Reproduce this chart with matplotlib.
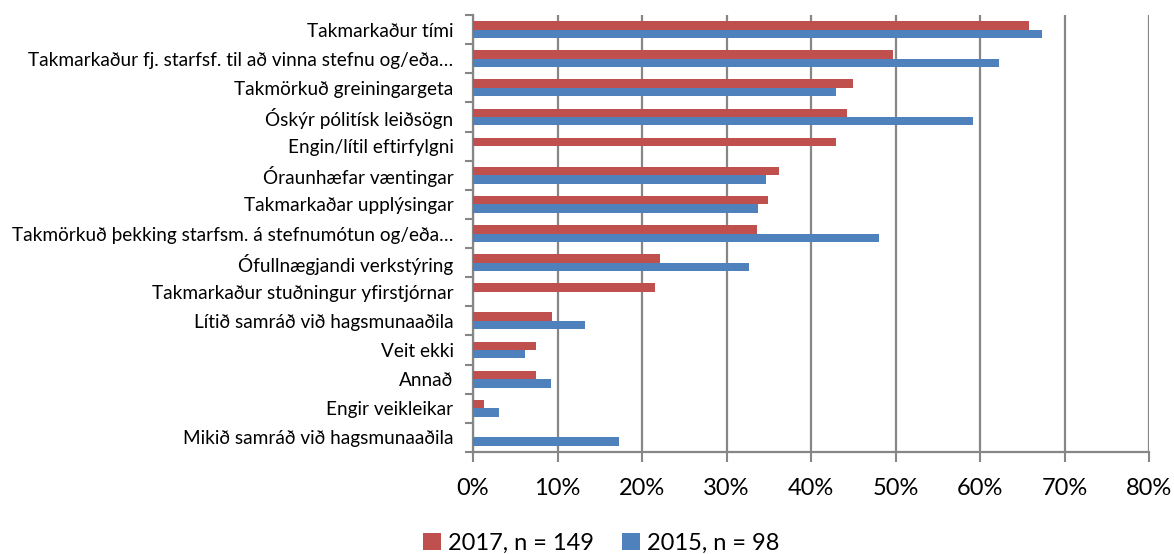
import matplotlib
matplotlib.use("Agg")
import matplotlib.pyplot as plt
import numpy as np
from matplotlib.patches import Patch

plt.rcParams['font.family'] = ['Lato', 'DejaVu Sans']

categories = [
    "Takmarkaður tími",
    "Takmarkaður fj. starfsf. til að vinna stefnu og/eða…",
    "Takmörkuð greiningargeta",
    "Óskýr pólitísk leiðsögn",
    "Engin/lítil eftirfylgni",
    "Óraunhæfar væntingar",
    "Takmarkaðar upplýsingar",
    "Takmörkuð þekking starfsm. á stefnumótun og/eða…",
    "Ófullnægjandi verkstýring",
    "Takmarkaður stuðningur yfirstjórnar",
    "Lítið samráð við hagsmunaaðila",
    "Veit ekki",
    "Annað",
    "Engir veikleikar",
    "Mikið samráð við hagsmunaaðila",
]
values_2017 = [65.8, 49.7, 45.0, 44.3, 43.0, 36.2, 34.9, 33.6, 22.1, 21.5, 9.4, 7.4, 7.4, 1.3, 0.0]
values_2015 = [67.3, 62.2, 42.9, 59.2, 0.0, 34.7, 33.7, 48.0, 32.7, 0.0, 13.3, 6.1, 9.2, 3.1, 17.3]
series_labels = ["2017, n = 149", "2015, n = 98"]
xticks = [0, 10, 20, 30, 40, 50, 60, 70, 80]

red = "#C0504D"
blue = "#4F81BD"
grid = "#868686"

fig = plt.figure(figsize=(11.74, 5.54), dpi=100)
ax = fig.add_axes([473/1174, 1 - 452/554, (1149-473)/1174, (452-15)/554])

y = np.arange(len(categories))
h = 0.29
ax.barh(y - h/2, values_2017, height=h, color=red, label=series_labels[0], zorder=3)
ax.barh(y + h/2, values_2015, height=h, color=blue, label=series_labels[1], zorder=3)

ax.set_xlim(0, 80)
ax.set_ylim(len(categories) - 0.5, -0.5)
ax.set_xticks(xticks)
ax.set_xticklabels([f"{t}%" for t in xticks], fontsize=17)
ax.xaxis.grid(True, color=grid, linewidth=1.6, zorder=0)
ax.set_axisbelow(True)

# y ticks: marks at category boundaries, labels at centers
ax.set_yticks(np.arange(-0.5, len(categories)), minor=False)
ax.set_yticklabels([])
ax.set_yticks(y, minor=True)
ax.set_yticklabels(categories, minor=True, fontsize=13.7)
ax.tick_params(axis='y', which='minor', length=0, pad=14)
ax.tick_params(axis='y', which='major', length=6, width=1.5, color=grid)
ax.tick_params(axis='x', length=7, width=1.5, color=grid, pad=12)

for s in ['top', 'right']:
    ax.spines[s].set_visible(False)
for s in ['left', 'bottom']:
    ax.spines[s].set_color(grid)
    ax.spines[s].set_linewidth(1.6)

handles = [Patch(facecolor=red), Patch(facecolor=blue)]
fig.legend(handles, series_labels, loc='center', bbox_to_anchor=(601/1174, 1 - 543/554),
           ncol=2, frameon=False, fontsize=17, handlelength=0.75, handleheight=0.75,
           handletextpad=0.3, columnspacing=1.2)

fig.savefig("out.png", dpi=100)
